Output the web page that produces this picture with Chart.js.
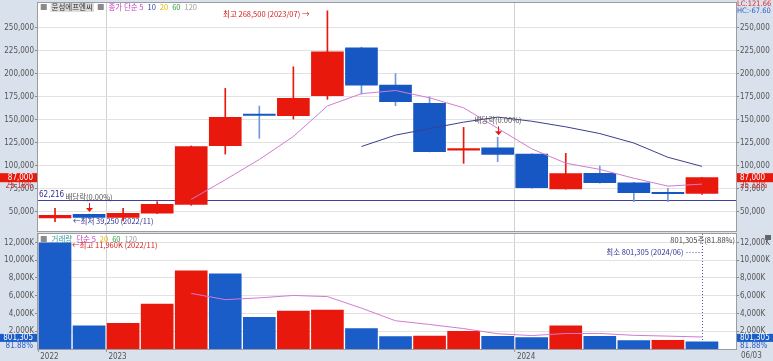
<!DOCTYPE html>
<html>
<head>
<meta charset="utf-8">
<script src="https://cdn.jsdelivr.net/npm/chart.js@4.4.1/dist/chart.umd.min.js"></script>
<style>
  html, body { margin: 0; padding: 0; background: #fff; }
  #wrap { position: relative; width: 773px; height: 361px; background: #d9e1ec; overflow: hidden; }
  #priceChart { position: absolute; left: 0; top: 0; }
  #volChart { position: absolute; left: 0; top: 233px; }
</style>
</head>
<body>
<div id="wrap">
  <canvas id="priceChart" width="773" height="233"></canvas>
  <canvas id="volChart" width="773" height="128"></canvas>
</div>
<script>
// 월봉 데이터 (2022/11 ~ 2024/06)
const stockName = "윤성에프엔씨";
const months = ["2022/11","2022/12","2023/01","2023/02","2023/03","2023/04","2023/05","2023/06","2023/07","2023/08",
                "2023/09","2023/10","2023/11","2023/12","2024/01","2024/02","2024/03","2024/04","2024/05","2024/06"];
const openP  = [43200, 47200, 43900, 48300, 58000, 121700, 156200, 154400, 176100, 228300,
                187700, 167800, 117000, 119600, 112700, 74700, 91700, 81500, 71000, 70000];
const highP  = [53700, 47500, 53700, 60900, 121500, 184100, 164900, 207600, 268500, 229000,
                200400, 175000, 141700, 130900, 113000, 113500, 99700, 82000, 75400, 87500];
const lowP   = [39250, 43500, 40000, 48000, 57000, 112700, 129800, 150800, 172200, 177900,
                165200, 115000, 102600, 104400, 75500, 74500, 81000, 60900, 60900, 68700];
const closeP = [46100, 43900, 48300, 58000, 120700, 152600, 154600, 173300, 223900, 187700,
                169600, 115200, 118700, 112400, 76100, 91500, 81500, 70700, 69500, 87000];
// 이동평균
const ma5Price  = [null, null, null, null, 63400, 84700, 106800, 131800, 165000, 178400,
                   181800, 173900, 163000, 140700, 118400, 102800, 96000, 86400, 77800, 80000];
const ma10Price = [null, null, null, null, null, null, null, null, null, 120900,
                   133300, 140400, 147400, 152900, 148400, 142300, 135000, 124700, 109200, 99300];
// 거래량 (K)
const volumes = [11960, 2600, 2900, 5050, 8800, 8470, 3580, 4260, 4370, 2300,
                 1400, 1450, 2000, 1430, 1280, 2600, 1430, 940, 980, 801.305];
const ma5Vol  = [null, null, null, null, 6260, 5560, 5760, 6030, 5900, 4600,
                 3180, 2760, 2300, 1720, 1510, 1750, 1750, 1540, 1450, 1350];
const exDivIdx = [1, 13];
const baseLine = 62216;
const priceTicks = [50000, 75000, 100000, 125000, 150000, 175000, 200000, 225000, 250000];
const volTicks = [2000, 4000, 6000, 8000, 10000, 12000];
const yearLabels = ["2022", "2023", "2024"];

const RED = "#e8180c", BLUE = "#1757c4", WICK_BLUE = "#6f9bd8";
const PINK = "#d47ad2", NAVY = "#3b3f8f";
const KR = '"Noto Sans CJK KR", "Noto Sans", sans-serif';
const NUM = '"Liberation Sans Narrow", "DejaVu Sans Condensed", "Liberation Sans", sans-serif';
const FS = 7.5;

const candleUp = months.map((m, i) => closeP[i] >= openP[i]);
const volUp = volumes.map((v, i) => i > 0 && v > volumes[i - 1]);
const lastIdx = months.length - 1;
const yearBounds = yearLabels.map(y => months.findIndex(m => m.startsWith(y)) - 0.5);

function txt(ctx, s, x, y, color, size, align, font) {
  ctx.font = size + "px " + (font || KR);
  ctx.fillStyle = color;
  ctx.textAlign = align || "left";
  ctx.textBaseline = "middle";
  ctx.fillText(s, x, y);
  return ctx.measureText(s).width;
}

function legendRow(ctx, x, y, items) {
  items.forEach(it => {
    ctx.font = FS + "px " + KR;
    const w = ctx.measureText(it[0]).width;
    if (it[2]) {
      ctx.fillStyle = it[2];
      ctx.fillRect(x - 1, y - 5, w + 2, 10);
    }
    txt(ctx, it[0], x, y, it[1], FS);
    x += w + 4;
  });
}

function downArrow(ctx, x, yTip) {
  ctx.strokeStyle = RED; ctx.fillStyle = RED; ctx.lineWidth = 1;
  ctx.beginPath(); ctx.moveTo(x + 0.5, yTip - 9); ctx.lineTo(x + 0.5, yTip - 3); ctx.stroke();
  ctx.beginPath(); ctx.moveTo(x - 3, yTip - 4); ctx.lineTo(x + 4, yTip - 4); ctx.lineTo(x + 0.5, yTip); ctx.closePath(); ctx.fill();
}

function frame(chart) {
  const { ctx, chartArea: a } = chart;
  ctx.save();
  ctx.strokeStyle = "#9c9c9c"; ctx.lineWidth = 1;
  ctx.strokeRect(a.left - 0.5, a.top - 0.5, a.right - a.left + 1, a.bottom - a.top + 1);
  ctx.restore();
}

const whiteArea = {
  id: "whiteArea",
  beforeDraw(chart) {
    const { ctx, chartArea: a } = chart;
    ctx.save(); ctx.fillStyle = "#fff";
    ctx.fillRect(a.left, a.top, a.right - a.left, a.bottom - a.top);
    ctx.restore();
  }
};

const priceNotes = {
  id: "priceNotes",
  beforeDatasetsDraw(chart) {
    const { ctx, chartArea: a, scales } = chart;
    const y = Math.round(scales.y.getPixelForValue(baseLine)) + 0.5;
    ctx.save();
    ctx.strokeStyle = "#41419a"; ctx.lineWidth = 1;
    ctx.beginPath(); ctx.moveTo(a.left, y); ctx.lineTo(a.right, y); ctx.stroke();
    txt(ctx, baseLine.toLocaleString("en-US"), a.left + 1, y - 6, "#303090", 8, "left", NUM);
    ctx.restore();
  },
  afterDraw(chart) {
    const { ctx, chartArea: a, scales } = chart;
    const xs = scales.x, ys = scales.y;
    ctx.save();
    legendRow(ctx, a.left + 2, a.top + 4, [
      ["■", "#8a8a8a"], [stockName, "#333", "#dcdcdc"], ["■", "#8a8a8a"],
      ["종가 단순 5", "#c43cc4"], ["10", "#2b3fa0"], ["20", "#e2b400"], ["60", "#2f9a3c"], ["120", "#9a9a9a"]
    ]);
    txt(ctx, "LC:121.66", a.right + 1, 4.5, "#e02828", 7.5, "left", NUM);
    txt(ctx, "HC:-67.60", a.right + 1, 11.5, "#3060c8", 7.5, "left", NUM);

    // 최고
    const hi = highP.indexOf(Math.max(...highP));
    txt(ctx, "최고 " + highP[hi].toLocaleString("en-US") + " (" + months[hi] + ") →",
        xs.getPixelForValue(hi) - 18, ys.getPixelForValue(highP[hi]) + 3, "#d42020", FS, "right");
    // 최저
    const lo = lowP.indexOf(Math.min(...lowP));
    txt(ctx, "←최저 " + lowP[lo].toLocaleString("en-US") + " (" + months[lo] + ")",
        xs.getPixelForValue(lo) + 18, ys.getPixelForValue(lowP[lo]), "#303090", FS);
    // 배당락
    exDivIdx.forEach(i => {
      const x = Math.round(xs.getPixelForValue(i));
      const yh = ys.getPixelForValue(highP[i]);
      downArrow(ctx, x, yh - 2);
      txt(ctx, "배당락(0.00%)", x, yh - 17, "#555", FS, "center");
    });

    // 현재가
    const yc = ys.getPixelForValue(closeP[lastIdx]);
    const pct = "25.18%";
    ctx.fillStyle = RED;
    ctx.fillRect(0, yc - 4.5, a.left - 1, 9);
    ctx.fillRect(a.right + 1, yc - 4.5, 773 - a.right, 9);
    txt(ctx, closeP[lastIdx].toLocaleString("en-US"), a.left - 5, yc, "#fff", 8, "right", NUM);
    txt(ctx, closeP[lastIdx].toLocaleString("en-US"), a.right + 4, yc, "#fff", 8, "left", NUM);
    txt(ctx, pct, a.left - 5, yc + 8, "#e02828", 8, "right", NUM);
    txt(ctx, pct, a.right + 4, yc + 8, "#e02828", 8, "left", NUM);
    ctx.restore();
    frame(chart);
  }
};

const volNotes = {
  id: "volNotes",
  afterDraw(chart) {
    const { ctx, chartArea: a, scales } = chart;
    const xs = scales.x, ys = scales.y;
    ctx.save();
    legendRow(ctx, a.left + 2, a.top + 5, [
      ["■", "#8a8a8a"], ["거래량", "#3a9a9a"], ["단순 5", "#c43cc4"], ["20", "#e2b400"], ["60", "#2f9a3c"], ["120", "#9a9a9a"]
    ]);
    const hi = volumes.indexOf(Math.max(...volumes));
    txt(ctx, "←최고 " + volumes[hi].toLocaleString("en-US") + "K (" + months[hi] + ")",
        xs.getPixelForValue(hi) + 17, ys.getPixelForValue(volumes[hi]) + 2, "#d42020", FS);

    // 최소 거래량 표시
    const lo = volumes.indexOf(Math.min(...volumes));
    const xl = Math.round(xs.getPixelForValue(lo)) + 0.5;
    const loTxt = Math.round(volumes[lo] * 1000).toLocaleString("en-US");
    ctx.strokeStyle = "#5058a8"; ctx.lineWidth = 1; ctx.setLineDash([1, 2]);
    ctx.beginPath(); ctx.moveTo(xl, a.top); ctx.lineTo(xl, ys.getPixelForValue(volumes[lo])); ctx.stroke();
    const yMin = a.top + 18.5;
    ctx.beginPath(); ctx.moveTo(xl - 16, yMin); ctx.lineTo(xl, yMin); ctx.stroke();
    ctx.setLineDash([]);
    txt(ctx, "최소 " + loTxt + " (" + months[lo] + ")", xl - 19, yMin, "#303090", FS, "right");
    txt(ctx, loTxt + "주(81.88%)", a.right - 1, a.top + 6, "#444", FS, "right");

    // 현재 거래량 박스
    const yv = ys.getPixelForValue(volumes[lastIdx]) - 4;
    ctx.fillStyle = "#1a5cc8";
    ctx.fillRect(0, yv - 4, a.left - 1, 8);
    ctx.fillRect(a.right + 1, yv - 4, 773 - a.right, 8);
    txt(ctx, loTxt, a.left - 5, yv, "#fff", 8, "right", NUM);
    txt(ctx, loTxt, a.right + 4, yv, "#fff", 8, "left", NUM);
    txt(ctx, "81.88%", a.left - 5, yv + 8, "#3060c8", 8, "right", NUM);
    txt(ctx, "81.88%", a.right + 4, yv + 8, "#3060c8", 8, "left", NUM);

    ctx.fillStyle = "#666";
    ctx.fillRect(765, a.top + 1, 6, 5);
    txt(ctx, "06/03", a.right + 5, a.bottom + 7, "#555", 8, "left", NUM);
    ctx.restore();
    frame(chart);
  }
};

const tickFont = { family: NUM, size: 8 };

function noPad(s) { s.paddingTop = 0; s.paddingBottom = 0; s.paddingLeft = 0; s.paddingRight = 0; }

function yAxis(pos, min, max, list, fmt, width) {
  return {
    position: pos, min: min, max: max,
    afterBuildTicks(s) { s.ticks = list.map(v => ({ value: v })); },
    afterFit(s) { s.width = width; noPad(s); },
    ticks: { font: tickFont, color: "#555", padding: 1, callback: fmt },
    grid: { color: "#e2e2e2", tickLength: 3, tickColor: "#888", drawOnChartArea: pos === "left" },
    border: { display: false }
  };
}

const fmtPrice = v => v.toLocaleString("en-US");
const fmtVol = v => v.toLocaleString("en-US") + "K";

new Chart(document.getElementById("priceChart"), {
  type: "bar",
  data: {
    datasets: [
      { type: "line", data: ma5Price.map((v, i) => ({ x: i, y: v })), borderColor: PINK, borderWidth: 1, pointRadius: 0, order: 0 },
      { type: "line", data: ma10Price.map((v, i) => ({ x: i, y: v })), borderColor: NAVY, borderWidth: 1, pointRadius: 0, order: 0 },
      { data: months.map((m, i) => ({ x: i, y: [openP[i], closeP[i]] })),
        backgroundColor: candleUp.map(u => u ? RED : BLUE), barThickness: 32, grouped: false, order: 1 },
      { data: months.map((m, i) => ({ x: i, y: [lowP[i], highP[i]] })),
        backgroundColor: candleUp.map(u => u ? RED : WICK_BLUE), barThickness: 1, grouped: false, order: 2 }
    ]
  },
  options: {
    responsive: false, animation: false,
    layout: { padding: { top: 3, bottom: 2, left: 0, right: 0 } },
    plugins: { legend: { display: false }, tooltip: { enabled: false } },
    scales: {
      x: {
        type: "linear", min: -0.5, max: months.length, offset: false,
        afterBuildTicks(s) { s.ticks = yearBounds.slice(1).map(v => ({ value: v })); },
        afterFit(s) { s.height = 0; noPad(s); },
        ticks: { display: false },
        grid: { color: "#d2d2d2", drawTicks: false, offset: false },
        border: { display: false }
      },
      y: yAxis("left", 29000, 277000, priceTicks, fmtPrice, 38),
      y2: yAxis("right", 29000, 277000, priceTicks, fmtPrice, 37)
    }
  },
  plugins: [whiteArea, priceNotes]
});

new Chart(document.getElementById("volChart"), {
  type: "bar",
  data: {
    datasets: [
      { type: "line", data: ma5Vol.map((v, i) => ({ x: i, y: v })), borderColor: PINK, borderWidth: 1, pointRadius: 0, order: 0 },
      { data: volumes.map((v, i) => ({ x: i, y: v })),
        backgroundColor: volUp.map(u => u ? RED : "#1a5cc8"), barThickness: 32, grouped: false, order: 1 }
    ]
  },
  options: {
    responsive: false, animation: false,
    layout: { padding: { top: 1, bottom: 0, left: 0, right: 0 } },
    plugins: { legend: { display: false }, tooltip: { enabled: false } },
    scales: {
      x: {
        type: "linear", min: -0.5, max: months.length, offset: false, position: "bottom",
        afterBuildTicks(s) { s.ticks = yearBounds.map(v => ({ value: v })); },
        afterFit(s) { s.height = 12; noPad(s); },
        ticks: { font: tickFont, color: "#555", padding: 0, align: "start", maxRotation: 0, autoSkip: false,
                 callback: (v, i) => " " + yearLabels[i] },
        grid: { color: "#d2d2d2", tickLength: 3, tickColor: "#999", offset: false },
        border: { display: false }
      },
      y: yAxis("left", 0, 12950, volTicks, fmtVol, 38),
      y2: yAxis("right", 0, 12950, volTicks, fmtVol, 37)
    }
  },
  plugins: [whiteArea, volNotes]
});
</script>
</body>
</html>
